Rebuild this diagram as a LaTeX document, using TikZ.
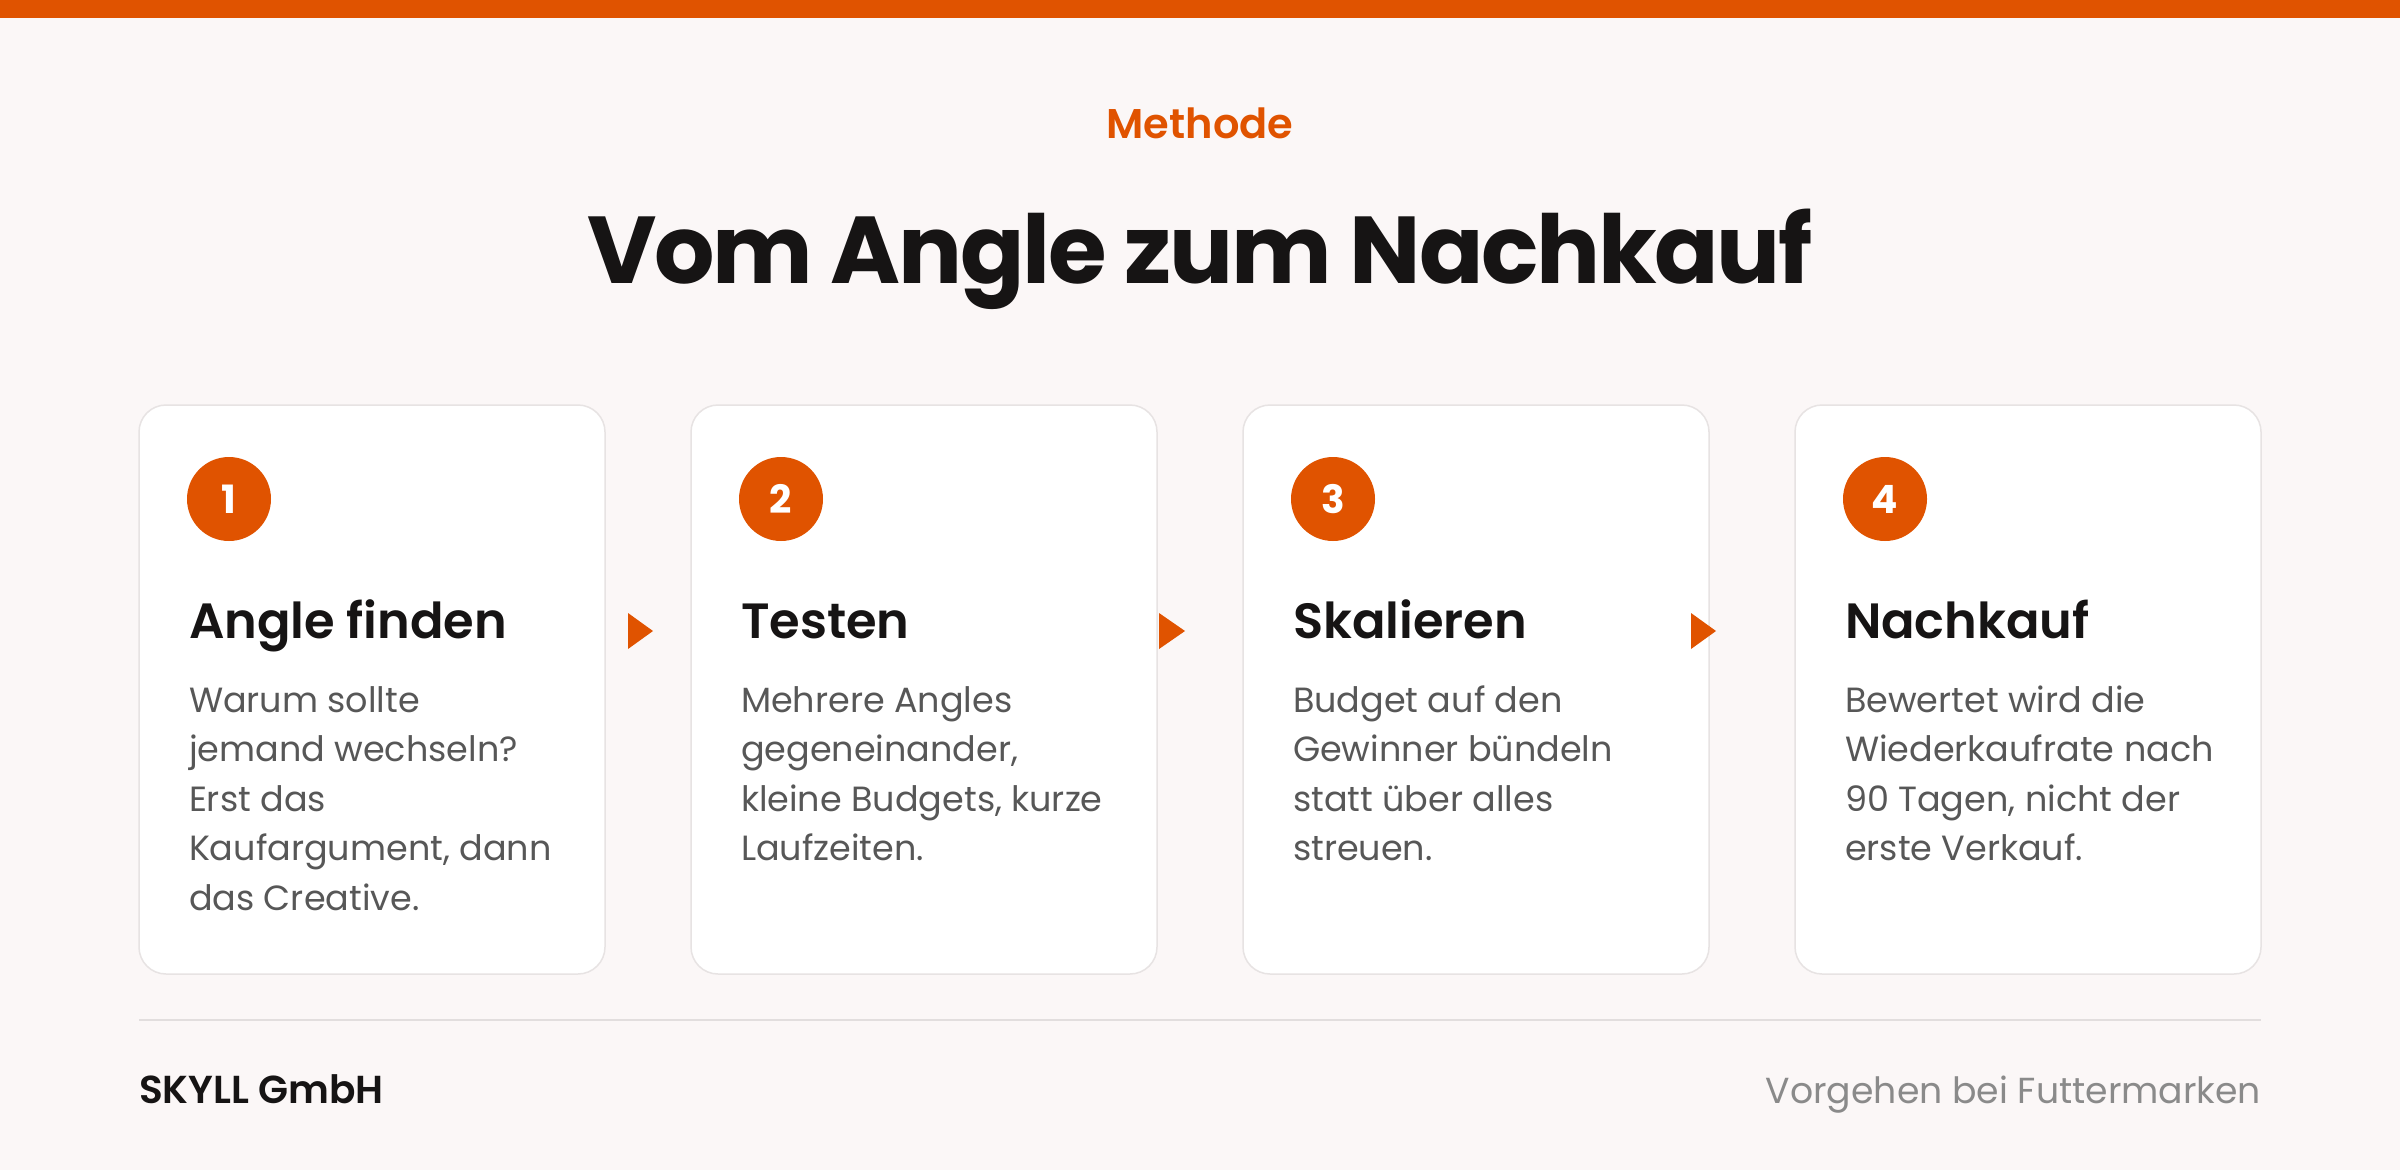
\documentclass[tikz,border=0pt]{standalone}
\usepackage{fontspec}
\usetikzlibrary{calc}
\setmainfont{Poppins}
\newfontfamily\headfont{Poppins}[LetterSpace=-2.4]
\IfFontExistsTF{Poppins SemiBold}{\newfontfamily\semib{Poppins SemiBold}}{\newcommand\semib{\bfseries}}
\definecolor{accent}{HTML}{E05300}
\definecolor{bgc}{HTML}{FBF7F7}
\definecolor{cardline}{HTML}{E7E3E3}
\definecolor{ink}{HTML}{161414}
\definecolor{bodyc}{HTML}{575757}
\definecolor{footc}{HTML}{8A8A8A}
\definecolor{rulec}{HTML}{E2DEDE}
\tikzset{
  cardbox/.style={draw=cardline, line width=1.5pt, fill=white, rounded corners=27pt,
    minimum width=466pt, minimum height=569pt, anchor=north west},
  numdot/.style={circle, fill=accent, minimum size=84pt, text=white,
    font=\bfseries\fontsize{39}{39}\selectfont},
  cardtitle/.style={anchor=base west, text=ink, font=\semib\fontsize{49.5}{60}\selectfont},
  bodyline/.style={anchor=base west, text=bodyc, font=\fontsize{35}{49}\selectfont},
  flowtip/.style={fill=accent},
}
\newcommand\stepcard[8]{%
  \node[cardbox] (card#1) at (#2,405) {};
  \node[numdot] (dot#1) at ($(#2,499)+(90,0)$) {#1};
  \node[cardtitle] (title#1) at ($(#2,638)+(50,0)$) {#3};
  \node[bodyline] (body#1a) at ($(#2,712)+(50,0)$) {#4};
  \node[bodyline] (body#1b) at ($(#2,761.5)+(50,0)$) {#5};
  \node[bodyline] (body#1c) at ($(#2,811)+(50,0)$) {#6};
  \node[bodyline] (body#1d) at ($(#2,860.5)+(50,0)$) {#7};
  \node[bodyline] (body#1e) at ($(#2,910)+(50,0)$) {#8};
}
\begin{document}
\begin{tikzpicture}[x=1pt,y=-1pt, every node/.style={inner sep=0pt, outer sep=0pt}]
\useasboundingbox (0,0) rectangle (2400,1170);
\fill[bgc] (0,0) rectangle (2400,1170);
\fill[accent] (0,0) rectangle (2400,18);

\node[anchor=base, text=accent, font=\semib\fontsize{41.5}{45}\selectfont] (kicker) at (1200,138) {Methode};
\node[anchor=base, text=ink, font=\headfont\bfseries\fontsize{95}{110}\selectfont] (headline) at (1200,283) {Vom Angle zum Nachkauf};

\stepcard{1}{139}{Angle finden}{Warum sollte}{jemand wechseln?}{Erst das}{Kaufargument, dann}{das Creative.}
\stepcard{2}{691}{Testen}{Mehrere Angles}{gegeneinander,}{kleine Budgets, kurze}{Laufzeiten.}{}
\stepcard{3}{1243}{Skalieren}{Budget auf den}{Gewinner bündeln}{statt über alles}{streuen.}{}
\stepcard{4}{1795}{Nachkauf}{Bewertet wird die}{Wiederkaufrate nach}{90 Tagen, nicht der}{erste Verkauf.}{}

\fill[flowtip] (628,613) -- (653,631) -- (628,649) -- cycle;
\fill[flowtip] (1159,613) -- (1185,631) -- (1159,649) -- cycle;
\fill[flowtip] (1691,613) -- (1716,631) -- (1691,649) -- cycle;

\coordinate (ruleL) at (139,1020);
\coordinate (ruleR) at (2261,1020);
\draw[rulec, line width=1.5pt] (ruleL) -- (ruleR);

\node[anchor=base west, text=ink, font=\semib\fontsize{39}{45}\selectfont] (brand) at (139,1103) {SKYLL GmbH};
\node[anchor=base east, text=footc, font=\fontsize{36.2}{45}\selectfont] (tagline) at (2261,1103) {Vorgehen bei Futtermarken};
\end{tikzpicture}
\end{document}
